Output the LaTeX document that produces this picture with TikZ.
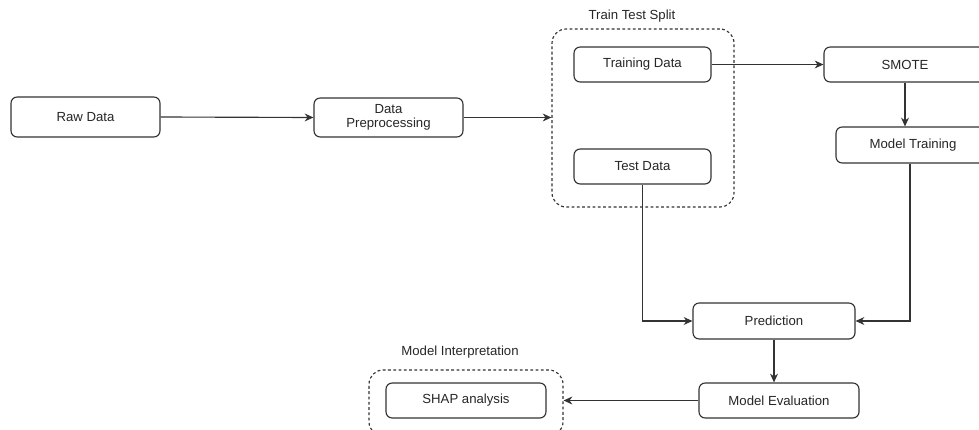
\documentclass[tikz,border=0pt]{standalone}
\usepackage{fontspec}
\setmainfont{Liberation Sans}
\usetikzlibrary{arrows.meta}
\begin{document}
\begin{tikzpicture}[x=0.02cm,y=-0.02cm,
  every node/.style={font=\fontsize{7.5}{8.2}\selectfont, text=black!85},
  box/.style={draw=black!80, rounded corners=3.5pt, line width=0.65pt, align=center, inner sep=0pt},
  group/.style={draw=black!80, dashed, dash pattern=on 1.6pt off 1.4pt, rounded corners=8pt, line width=0.65pt, inner sep=0pt},
  conn/.style={draw=black!80, line width=0.65pt, -{Stealth[length=5pt,width=4.5pt]}},
  plain/.style={draw=black!80, line width=0.65pt}]
\useasboundingbox (0,0) rectangle (979,429);
\node[box, minimum width=2.98cm, minimum height=0.8cm] (raw) at (85.5,117) {Raw Data};
\node[box, minimum width=2.98cm, minimum height=0.78cm] (prep) at (388.5,117.5) {Data\\Preprocessing};
\node[group, minimum width=3.64cm, minimum height=3.56cm] (split) at (643,118) {};
\node (splitlbl) at (632,16) {Train Test Split};
\node[box, minimum width=2.74cm, minimum height=0.7cm] (train) at (642.5,64.5) {Training Data};
\node[box, minimum width=2.74cm, minimum height=0.7cm] (test) at (642.5,166.5) {Test Data};
\node[box, minimum width=3.24cm, minimum height=0.7cm] (smote) at (905,64.5) {SMOTE};
\node[box, minimum width=3.08cm, minimum height=0.72cm] (mt) at (913,145) {Model Training};
\node[box, minimum width=3.24cm, minimum height=0.72cm] (pred) at (774,321) {Prediction};
\node[box, minimum width=3.2cm, minimum height=0.7cm] (eval) at (779,400.5) {Model Evaluation};
\node[group, minimum width=3.88cm, minimum height=1.32cm] (interp) at (466,403) {};
\node (interplbl) at (460,352) {Model Interpretation};
\node[box, minimum width=3.2cm, minimum height=0.7cm] (shap) at (466,400.5) {SHAP analysis};
\draw[conn] (raw.east) -- (prep.west);
\draw[conn] (prep.east) -- (prep.east -| split.west);
\draw[conn] (train.east) -- (smote.west);
\draw[conn] (smote.south) -- (smote.south |- mt.north);
\draw[conn] (mt.south -| 910,0) |- (pred.east);
\draw[conn] (test.south) |- (pred.west);
\draw[conn] (pred.south) -- (pred.south |- eval.north);
\draw[conn] (eval.west) -- (eval.west -| interp.east);
\end{tikzpicture}
\end{document}
